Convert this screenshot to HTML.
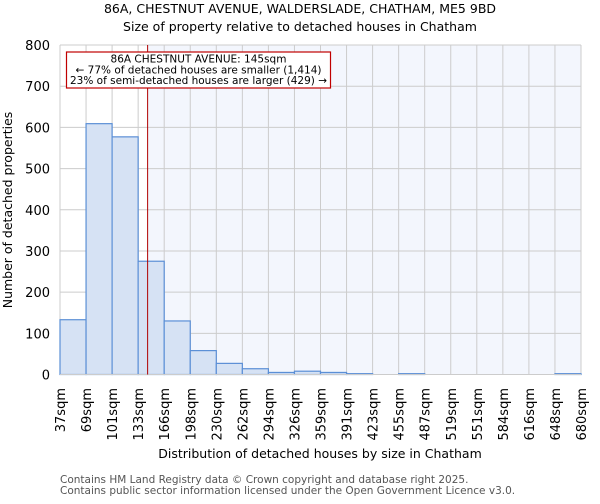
<!DOCTYPE html>
<html><head><meta charset="utf-8"><style>
body{margin:0;background:#fff;font-family:"DejaVu Sans","Liberation Sans",sans-serif}
</style></head><body>
<svg width="600" height="500" xmlns="http://www.w3.org/2000/svg" font-family="DejaVu Sans, Liberation Sans, sans-serif">
<text x="300" y="13" text-anchor="middle" font-size="12.5">86A, CHESTNUT AVENUE, WALDERSLADE, CHATHAM, ME5 9BD</text>
<text x="300" y="31" text-anchor="middle" font-size="12.5">Size of property relative to detached houses in Chatham</text>
<g id="plot"></g>
<text x="12" y="210" text-anchor="middle" font-size="12.5" transform="rotate(-90 12 210)">Number of detached properties</text>
<text x="320" y="458" text-anchor="middle" font-size="12.5">Distribution of detached houses by size in Chatham</text>
<text x="60" y="483" font-size="10.5" fill="#555">Contains HM Land Registry data © Crown copyright and database right 2025.</text>
<text x="60" y="494" font-size="10.5" fill="#555">Contains public sector information licensed under the Open Government Licence v3.0.</text>
</svg>
<script>
const binEdges=[37,69,101,133,166,198,230,262,294,326,359,391,423,455,487,519,551,584,616,648,680];
const counts=[133,609,577,275,130,58,27,14,5,8,5,2,0,2,0,0,0,0,0,2];
const yTicks=[0,100,200,300,400,500,600,700,800];
const subjectSize=145;
const X0=60,X1=581,Y0=374.5,Y1=45,YMAX=800;
const bw=(X1-X0)/(binEdges.length-1);
function xs(v){for(let i=0;i<binEdges.length-1;i++){if(v<=binEdges[i+1])return X0+bw*(i+(v-binEdges[i])/(binEdges[i+1]-binEdges[i]));}return X1;}
function ys(v){return Y0-(Y0-Y1)*v/YMAX;}
const NS="http://www.w3.org/2000/svg",g=document.getElementById('plot');
function mk(t,a){const e=document.createElementNS(NS,t);for(const k in a)e.setAttribute(k,a[k]);g.appendChild(e);return e;}
const sx=xs(subjectSize);
let e=mk('rect',{x:sx,y:Y1,width:X1-sx,height:Y0-Y1,fill:'#f3f6fd'});


yTicks.forEach(t=>{let l=mk('line',{x1:X0,x2:X1,y1:ys(t),y2:ys(t),stroke:'#ccc'});


let tx=mk('text',{x:X0-10,y:ys(t)+5,'text-anchor':'end','font-size':'13'});tx.textContent=t;

});
binEdges.forEach((b,i)=>{const x=X0+bw*i;let l=mk('line',{x1:x,x2:x,y1:Y1,y2:Y0,stroke:'#ccc'});


let tx=mk('text',{x:0,y:0,'text-anchor':'end','font-size':'13',transform:`translate(${x+5},388) rotate(-90)`});tx.textContent=b+'sqm';

});
counts.forEach((c,i)=>{const x=X0+bw*i;let r=mk('rect',{x:x,y:ys(c),width:bw,height:Y0-ys(c),fill:'#d6e2f4',stroke:'#5b8fd6','stroke-width':'1.2'});

});
let ax=mk('line',{x1:X0,x2:X1,y1:Y0,y2:Y0,stroke:'#ccc'});


let ml=mk('line',{x1:sx,x2:sx,y1:Y1,y2:Y0,stroke:'#b00000','stroke-width':'1'});


let box=mk('rect',{x:66.5,y:52,width:264,height:36,fill:'#fff',stroke:'#c00000','stroke-width':'1.2'});


['86A CHESTNUT AVENUE: 145sqm','← 77% of detached houses are smaller (1,414)','23% of semi-detached houses are larger (429) →'].forEach((s,i)=>{let t=mk('text',{x:198.5,y:62.5+i*10.8,'text-anchor':'middle','font-size':'10.5'});t.textContent=s;

});
</script>
</body></html>
